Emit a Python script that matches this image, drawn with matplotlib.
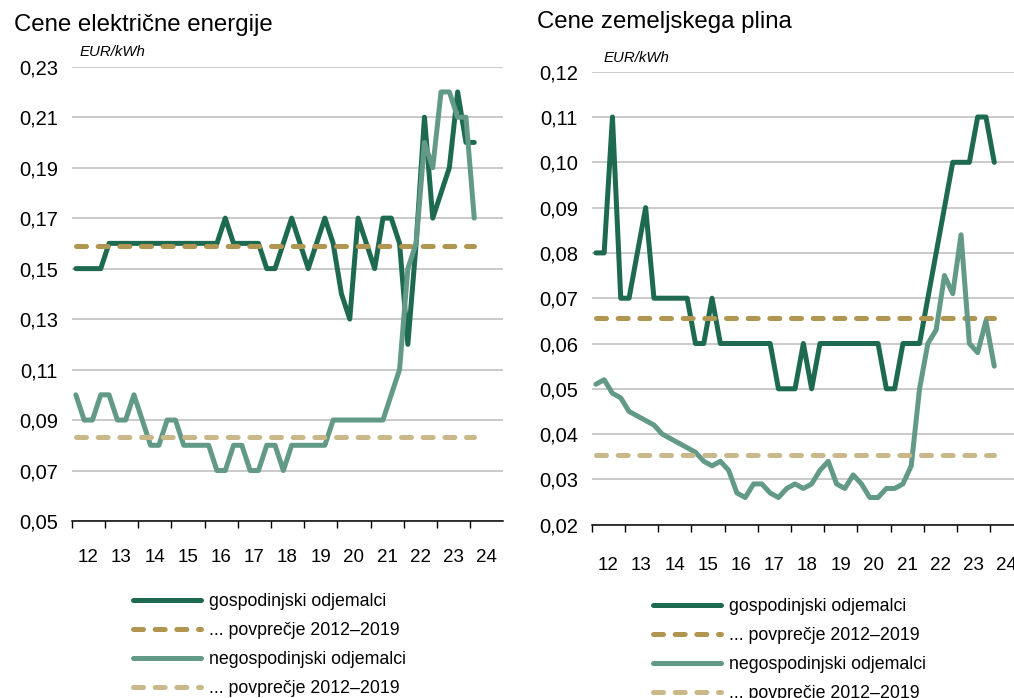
import matplotlib
matplotlib.use('Agg')
import matplotlib.pyplot as plt
import numpy as np

plt.rcParams['font.family'] = ['Liberation Sans', 'DejaVu Sans']
plt.rcParams['lines.scale_dashes'] = False

# quarterly prices, 2012Q1 .. 2024Q1, EUR/kWh
elec_household = [0.15, 0.15, 0.15, 0.15, 0.16, 0.16, 0.16, 0.16, 0.16, 0.16,
                  0.16, 0.16, 0.16, 0.16, 0.16, 0.16, 0.16, 0.16, 0.17, 0.16,
                  0.16, 0.16, 0.16, 0.15, 0.15, 0.16, 0.17, 0.16, 0.15, 0.16,
                  0.17, 0.16, 0.14, 0.13, 0.17, 0.16, 0.15, 0.17, 0.17, 0.16,
                  0.12, 0.16, 0.21, 0.17, 0.18, 0.19, 0.22, 0.20, 0.20]
elec_nonhousehold = [0.10, 0.09, 0.09, 0.10, 0.10, 0.09, 0.09, 0.10, 0.09, 0.08,
                     0.08, 0.09, 0.09, 0.08, 0.08, 0.08, 0.08, 0.07, 0.07, 0.08,
                     0.08, 0.07, 0.07, 0.08, 0.08, 0.07, 0.08, 0.08, 0.08, 0.08,
                     0.08, 0.09, 0.09, 0.09, 0.09, 0.09, 0.09, 0.09, 0.10, 0.11,
                     0.15, 0.16, 0.20, 0.19, 0.22, 0.22, 0.21, 0.21, 0.17]
elec_household_avg = 0.1588
elec_nonhousehold_avg = 0.0834

gas_household = [0.08, 0.08, 0.11, 0.07, 0.07, 0.08, 0.09, 0.07, 0.07, 0.07,
                 0.07, 0.07, 0.06, 0.06, 0.07, 0.06, 0.06, 0.06, 0.06, 0.06,
                 0.06, 0.06, 0.05, 0.05, 0.05, 0.06, 0.05, 0.06, 0.06, 0.06,
                 0.06, 0.06, 0.06, 0.06, 0.06, 0.05, 0.05, 0.06, 0.06, 0.06,
                 0.07, 0.08, 0.09, 0.10, 0.10, 0.10, 0.11, 0.11, 0.10]
gas_nonhousehold = [0.051, 0.052, 0.049, 0.048, 0.045, 0.044, 0.043, 0.042, 0.040, 0.039,
                    0.038, 0.037, 0.036, 0.034, 0.033, 0.034, 0.032, 0.027, 0.026, 0.029,
                    0.029, 0.027, 0.026, 0.028, 0.029, 0.028, 0.029, 0.032, 0.034, 0.029,
                    0.028, 0.031, 0.029, 0.026, 0.026, 0.028, 0.028, 0.029, 0.033, 0.050,
                    0.060, 0.063, 0.075, 0.071, 0.084, 0.060, 0.058, 0.065, 0.055]
gas_household_avg = 0.0656
gas_nonhousehold_avg = 0.0354

years = ['12', '13', '14', '15', '16', '17', '18', '19', '20', '21', '22', '23', '24']
labels = ['gospodinjski odjemalci', '... povprečje 2012\u20132019',
          'negospodinjski odjemalci', '... povprečje 2012\u20132019']

DARK = '#1e6a50'
LIGHT = '#639a87'
GOLD = '#b09650'
SAND = '#c9b889'
LW = 3.6
DASH = (7.2, 8.4)


def comma(v):
    return f'{v:.2f}'.replace('.', ',')


def panel(ax, hh, nh, hh_avg, nh_avg, ylo, yhi, step, xmax, xpad):
    x = np.arange(len(hh)) / 4 + 0.125
    ax.plot(x, hh, color=DARK, lw=LW, solid_capstyle='round', label=labels[0])
    ax.plot([x[0], x[-1]], [hh_avg, hh_avg], color=GOLD, lw=LW,
            dashes=DASH, dash_capstyle='round', label=labels[1])
    ax.plot(x, nh, color=LIGHT, lw=LW, solid_capstyle='round', label=labels[2])
    ax.plot([x[0], x[-1]], [nh_avg, nh_avg], color=SAND, lw=LW,
            dashes=DASH, dash_capstyle='round', label=labels[3])

    ax.set_xlim(0, xmax)
    ax.set_ylim(ylo, yhi)
    yt = np.arange(ylo, yhi + step / 2, step)
    ax.set_yticks(yt)
    ax.set_yticklabels([comma(v) for v in yt], fontsize=14.5)
    ax.tick_params(axis='y', length=0, pad=10)
    ax.yaxis.grid(True, color='#c6c6c6', lw=1.3)
    ax.set_axisbelow(True)

    ax.set_xticks(np.arange(0, 13))
    ax.set_xticklabels([])
    ax.set_xticks(np.arange(0.5, 13), minor=True)
    ax.set_xticklabels(years, minor=True, fontsize=13.5)
    ax.tick_params(axis='x', which='major', length=5, width=1, direction='out')
    ax.tick_params(axis='x', which='minor', length=0, pad=xpad)

    for s in ('top', 'right', 'left'):
        ax.spines[s].set_visible(False)
    ax.spines['bottom'].set_linewidth(1.1)
    ax.spines['bottom'].set_zorder(3)


W, H = 1014, 698
fig = plt.figure(figsize=(W / 100, H / 100), dpi=100)
ax1 = fig.add_axes([71.7 / W, 1 - 521 / H, (503.3 - 71.7) / W, (521 - 66.7) / H])
ax2 = fig.add_axes([591.7 / W, 1 - 524.7 / H, (W - 591.7) / W, (524.7 - 71.7) / H])

panel(ax1, elec_household, elec_nonhousehold, elec_household_avg,
      elec_nonhousehold_avg, 0.05, 0.23, 0.02, 13, 20)
panel(ax2, gas_household, gas_nonhousehold, gas_household_avg,
      gas_nonhousehold_avg, 0.02, 0.12, 0.01, (W - 591.7) / 33.2, 23.5)

fig.text(14 / W, 1 - 25 / H, 'Cene električne energije', fontsize=17.3, va='center')
fig.text(537 / W, 1 - 22 / H, 'Cene zemeljskega plina', fontsize=17.3, va='center')
fig.text(80 / W, 1 - 52 / H, 'EUR/kWh', fontsize=10.8, style='italic', va='center')
fig.text(604 / W, 1 - 58 / H, 'EUR/kWh', fontsize=10.8, style='italic', va='center')

for ax, lx, ly in ((ax1, 133, 593), (ax2, 653, 598)):
    ax.legend(loc='upper left', bbox_to_anchor=(lx / W, 1 - ly / H),
              bbox_transform=fig.transFigure, frameon=False, fontsize=12.8,
              handlelength=3.85, handletextpad=0.4, labelspacing=0.68,
              borderpad=0, borderaxespad=0)

fig.savefig('out.png', dpi=100)
